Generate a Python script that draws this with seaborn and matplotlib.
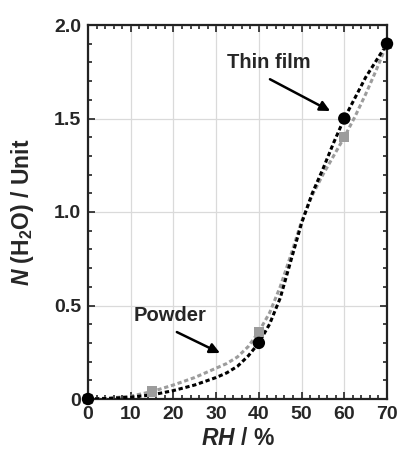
import matplotlib
matplotlib.use("Agg")
import matplotlib.pyplot as plt
import seaborn as sns
from matplotlib.ticker import MultipleLocator

# Messpunkte
rh_film = [0, 40, 60, 70]
n_film = [0.0, 0.30, 1.50, 1.90]
rh_powder = [0, 15, 40, 60, 70]
n_powder = [0.0, 0.04, 0.36, 1.40, 1.90]

# Kurvenverlauf
rh_film_curve = [0, 5, 10, 15, 20, 25, 30, 32.5, 35, 37.5, 40, 42.5, 45, 47.5, 50, 52.5, 55,
                 57.5, 60, 62.5, 65, 67.5, 70]
n_film_curve = [0.0, 0.003, 0.01, 0.022, 0.045, 0.075, 0.115, 0.14, 0.175, 0.23, 0.30, 0.40, 0.54,
                0.74, 0.94, 1.10, 1.23, 1.37, 1.50, 1.61, 1.72, 1.81, 1.90]
rh_powder_curve = [0, 5, 10, 15, 20, 25, 30, 32.5, 35, 37.5, 40, 42.5, 45, 47.5, 50, 52.5, 55,
                   57.5, 60, 62.5, 65, 67.5, 70]
n_powder_curve = [0.0, 0.005, 0.015, 0.04, 0.075, 0.115, 0.165, 0.19, 0.225, 0.28, 0.36, 0.46, 0.60,
                  0.77, 0.95, 1.09, 1.20, 1.30, 1.40, 1.51, 1.63, 1.76, 1.90]

x_ticks = [0, 10, 20, 30, 40, 50, 60, 70]
y_ticks = [0, 0.5, 1.0, 1.5, 2.0]
y_ticklabels = ["0", "0.5", "1.0", "1.5", "2.0"]

sns.set_style("ticks")
plt.rcParams["font.family"] = ["Liberation Sans", "DejaVu Sans"]
plt.rcParams["font.weight"] = "bold"
plt.rcParams["mathtext.fontset"] = "custom"
plt.rcParams["mathtext.rm"] = "Liberation Sans:bold"
plt.rcParams["mathtext.it"] = "Liberation Sans:italic:bold"
plt.rcParams["mathtext.bf"] = "Liberation Sans:bold"

fig = plt.figure(figsize=(4.01, 4.57), dpi=100)
ax = fig.add_axes([88 / 401, 1 - 399 / 457, 299 / 401, 374 / 457])

grau = "#9c9c9c"
dash = (0, (1.4, 0.9))

sns.lineplot(x=rh_powder_curve, y=n_powder_curve, ax=ax, color=grau, lw=2.2, linestyle=dash, zorder=3)
sns.lineplot(x=rh_film_curve, y=n_film_curve, ax=ax, color="black", lw=2.2, linestyle=dash, zorder=4)
sns.scatterplot(x=rh_powder, y=n_powder, ax=ax, color=grau, marker="s", s=55, edgecolor="none",
                zorder=5, clip_on=False)
sns.scatterplot(x=rh_film, y=n_film, ax=ax, color="black", marker="o", s=80, edgecolor="none",
                zorder=6, clip_on=False)

ax.set_xlim(0, 70)
ax.set_ylim(0, 2.0)
ax.set_xticks(x_ticks)
ax.set_yticks(y_ticks)
ax.set_yticklabels(y_ticklabels)
ax.xaxis.set_minor_locator(MultipleLocator(2))
ax.yaxis.set_minor_locator(MultipleLocator(0.1))
ax.grid(True, which="major", color="#dadada", lw=0.9)
ax.set_axisbelow(True)

ax.tick_params(which="both", direction="in", top=True, right=True, width=1.2, color="#222222")
ax.tick_params(which="major", length=5, labelsize=14, pad=5)
ax.tick_params(which="minor", length=3)
for lab in ax.get_xticklabels() + ax.get_yticklabels():
    lab.set_fontweight("bold")
for sp in ax.spines.values():
    sp.set_linewidth(1.6)
    sp.set_color("#222222")

ax.set_xlabel(r"$RH$ / %", fontsize=16.5, fontweight="bold", labelpad=3)
ax.set_ylabel(r"$N$ (H$_\mathrm{2}$O) / Unit", fontsize=16.5, fontweight="bold", labelpad=13)

pfeil = dict(arrowstyle="-|>", color="black", lw=1.8, shrinkA=0, shrinkB=0, mutation_scale=15)
ax.text(42.3, 1.80, "Thin film", ha="center", va="center", fontsize=14.5, fontweight="bold")
ax.annotate("", xy=(56.7, 1.54), xytext=(42.6, 1.71), arrowprops=pfeil)
ax.text(19.2, 0.447, "Powder", ha="center", va="center", fontsize=14.5, fontweight="bold")
ax.annotate("", xy=(30.9, 0.246), xytext=(20.8, 0.358), arrowprops=pfeil)

fig.savefig("out.png", dpi=100)
